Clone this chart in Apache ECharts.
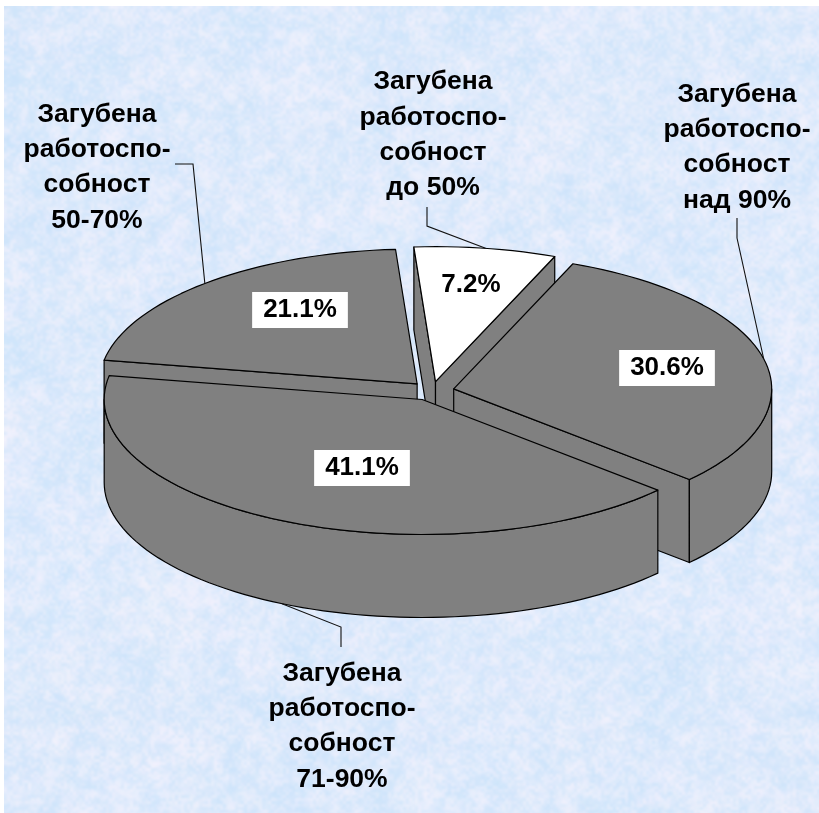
<!DOCTYPE html>
<html>
<head>
<meta charset="utf-8">
<style>
html, body { margin: 0; padding: 0; background: #fff; }
#box1 { width: 819px; height: 813px; }
</style>
<script src="https://cdn.jsdelivr.net/npm/echarts@6/dist/echarts.min.js"></script>
</head>
<body>
<div id="box1"></div>
<script>
// slices go clockwise, starting with the white one
var categories = [
    'Загубена\nработоспо-\nсобност\nдо 50%',
    'Загубена\nработоспо-\nсобност\nнад 90%',
    'Загубена\nработоспо-\nсобност\n71-90%',
    'Загубена\nработоспо-\nсобност\n50-70%'
];
var values = [7.2, 30.6, 41.1, 21.1];

// layout only, pixels
var colors = ['#ffffff', '#808080', '#808080', '#808080'];
var drawOrder = [1, 3, 4, 2];
var valuePos = [[471, 285], [667, 368], [362, 468], [300, 310]];
var labelPos = [[433, 135], [737, 147.5], [342, 726.5], [97, 167.5]];
var elbows = [
    [[427, 207], [427, 226]],
    [[737, 218], [737, 238]],
    [[341, 647], [341, 627]],
    [[175, 164], [193, 164]]
];
var cx = 432, cy = 391, rx = 318, ry = 135, depth = 83, explode = 0.07, startDeg = -3.9;
var font = '"Liberation Sans", Arial, sans-serif';

// mottled paper background, a few layers of smoothed hash noise
function makeTexture(w, h) {
    var c = document.createElement('canvas');
    c.width = w; c.height = h;
    var ctx = c.getContext('2d');
    ctx.fillStyle = '#dce9fb';
    ctx.fillRect(0, 0, w, h);
    var hash = function (x, y) {
        var s = Math.sin(x * 127.1 + y * 311.7) * 43758.5453;
        return s - Math.floor(s);
    };
    [[64, 0.25], [24, 0.45], [8, 0.5], [3, 0.35]].forEach(function (layer) {
        var cell = layer[0];
        var nx = Math.ceil(w / cell) + 2, ny = Math.ceil(h / cell) + 2;
        var t = document.createElement('canvas');
        t.width = nx; t.height = ny;
        var tc = t.getContext('2d');
        var img = tc.createImageData(nx, ny);
        for (var y = 0; y < ny; y++) {
            for (var x = 0; x < nx; x++) {
                var n = hash(x + cell, y + cell * 3);
                var i = (y * nx + x) * 4;
                if (n > 0.5) {
                    img.data[i] = 246; img.data[i + 1] = 243; img.data[i + 2] = 253;
                } else {
                    img.data[i] = 200; img.data[i + 1] = 226; img.data[i + 2] = 250;
                }
                img.data[i + 3] = Math.abs(n - 0.5) * 2 * 255 * layer[1];
            }
        }
        tc.putImageData(img, 0, 0);
        ctx.imageSmoothingEnabled = true;
        ctx.imageSmoothingQuality = 'high';
        ctx.drawImage(t, 0, 0, nx * cell, ny * cell);
    });
    return c;
}

var total = values.reduce(function (a, b) { return a + b; }, 0);
var edges = [startDeg];
values.forEach(function (v, i) { edges.push(edges[i] + v / total * 360); });

function rad(d) { return d * Math.PI / 180; }

function arcPoints(o, from, to, z) {
    var pts = [];
    var n = Math.max(2, Math.ceil(Math.abs(to - from) / 2));
    for (var k = 0; k <= n; k++) {
        var a = rad(from + (to - from) * k / n);
        pts.push([o[0] + rx * Math.sin(a), o[1] - ry * Math.cos(a) + z]);
    }
    return pts;
}

function renderSlice(params, api) {
    var i = params.dataIndex;
    var a0 = edges[i], a1 = edges[i + 1], mid = (a0 + a1) / 2;
    var o = [
        cx + explode * rx * Math.sin(rad(mid)),
        cy - explode * ry * Math.cos(rad(mid))
    ];
    var z2 = drawOrder[i] * 10;
    var children = [];
    var poly = function (points, fill, zz) {
        children.push({
            type: 'polygon',
            z2: z2 + zz,
            shape: { points: points },
            style: { fill: fill, stroke: '#000', lineWidth: 1.2, lineJoin: 'round' }
        });
    };
    var radial = function (ang) {
        var p = arcPoints(o, ang, ang, 0)[0];
        poly([o, p, [p[0], p[1] + depth], [o[0], o[1] + depth]], '#808080', 0);
    };
    if (Math.sin(rad(a0)) < 0) radial(a0);
    if (Math.sin(rad(a1)) > 0) radial(a1);

    // front part of the rim, only the half facing the viewer
    var r0 = Math.max(a0, 90), r1 = Math.min(a1, 270);
    if (r1 > r0) {
        poly(arcPoints(o, r0, r1, 0).concat(arcPoints(o, r1, r0, depth)), '#808080', 1);
    }
    poly([o].concat(arcPoints(o, a0, a1, 0)), colors[i], 2);

    // leader line runs from the rim at the middle of the slice
    var end = arcPoints(o, mid, mid, mid > 90 && mid < 270 ? depth : 0)[0];
    children.push({
        type: 'polyline',
        z2: 100,
        shape: { points: elbows[i].concat([end]) },
        style: { fill: 'none', stroke: '#111', lineWidth: 1.1 }
    });
    children.push({
        type: 'text',
        z2: 101,
        style: {
            text: categories[i], x: labelPos[i][0], y: labelPos[i][1],
            align: 'center', verticalAlign: 'middle',
            fill: '#000', fontFamily: font, fontWeight: 'bold', fontSize: 26.5, lineHeight: 35.3
        }
    });
    // the white slice needs no box of its own
    children.push({
        type: 'text',
        z2: 101,
        style: {
            text: api.value(0).toFixed(1) + '%', x: valuePos[i][0], y: valuePos[i][1],
            align: 'center', verticalAlign: 'middle',
            fill: '#000', fontFamily: font, fontWeight: 'bold', fontSize: 26,
            backgroundColor: colors[i] === '#ffffff' ? 'transparent' : '#fff',
            padding: [6, 11, 4, 11]
        }
    });
    return { type: 'group', children: children };
}

var myChart = echarts.init(document.getElementById('box1'), null, { renderer: 'canvas' });
myChart.setOption({
    animation: false,
    backgroundColor: '#fff',
    graphic: [{
        type: 'image',
        silent: true,
        z: -10,
        left: 4,
        top: 6,
        style: { image: makeTexture(815, 807), width: 815, height: 807 }
    }],
    series: [{
        type: 'custom',
        coordinateSystem: 'none',
        silent: true,
        renderItem: renderSlice,
        data: values
    }]
});
</script>
</body>
</html>
